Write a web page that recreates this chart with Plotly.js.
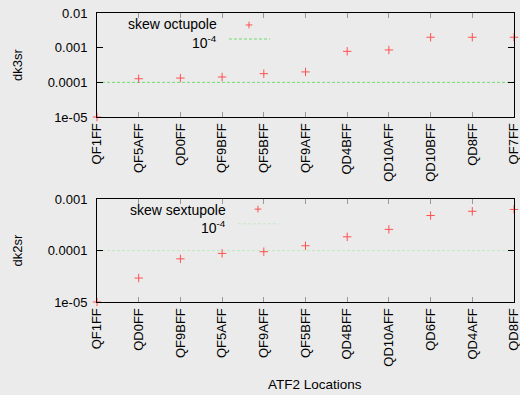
<!DOCTYPE html>
<html>
<head>
<meta charset="utf-8">
<script src="https://cdn.plot.ly/plotly-3.0.1.min.js"></script>
<style>html,body{margin:0;padding:0;background:#ebebeb;}#chart{width:520px;height:395px;}</style>
</head>
<body>
<div id="chart"></div>
<script>
// ---- data ----
const octupoleLocations = ['QF1FF','QF5AFF','QD0FF','QF9BFF','QF5BFF','QF9AFF','QD4BFF','QD10AFF','QD10BFF','QD8FF','QF7FF'];
const dk3sr = [1e-5, 1.27e-4, 1.33e-4, 1.43e-4, 1.78e-4, 2.0e-4, 7.85e-4, 8.6e-4, 2.0e-3, 2.0e-3, 2.0e-3];
const sextupoleLocations = ['QF1FF','QD0FF','QF9BFF','QF5AFF','QF9AFF','QF5BFF','QD4BFF','QD10AFF','QD6FF','QD4AFF','QD8FF'];
const dk2sr = [1e-5, 2.92e-5, 6.9e-5, 8.8e-5, 9.5e-5, 1.24e-4, 1.85e-4, 2.58e-4, 4.8e-4, 5.8e-4, 6.3e-4];
const refLevel = 1e-4;
const topTickVals = [1e-5, 1e-4, 1e-3, 1e-2];
const topTickText = ['1e-05', '0.0001', '0.001', '0.01'];
const botTickVals = [1e-5, 1e-4, 1e-3];
const botTickText = ['1e-05', '0.0001', '0.001'];

const FONT = 'Liberation Sans, Arial, sans-serif';
const RED = 'rgb(255,80,80)';
const GREEN_TOP = 'rgb(110,220,110)';
const GREEN_BOT = 'rgb(195,235,195)';

function minorVals(lo, hi) {
  const v = [];
  for (let e = lo; e < hi; e++) for (let m = 2; m <= 9; m++) v.push(m * Math.pow(10, e));
  return v;
}

const markerStyle = {symbol: 'cross-thin', size: 6, line: {color: RED, width: 1}, color: RED};

const traces = [
  {x: [octupoleLocations[0], octupoleLocations[octupoleLocations.length-1]], y: [refLevel, refLevel],
   type: 'scatter', mode: 'lines', name: '10^-4', line: {color: GREEN_TOP, width: 1, dash: '3px,2px'},
   xaxis: 'x', yaxis: 'y', showlegend: false},
  {x: octupoleLocations, y: dk3sr, type: 'scatter', mode: 'markers', name: 'skew octupole',
   marker: markerStyle, xaxis: 'x', yaxis: 'y', cliponaxis: false, showlegend: false},
  {x: [sextupoleLocations[0], sextupoleLocations[sextupoleLocations.length-1]], y: [refLevel, refLevel],
   type: 'scatter', mode: 'lines', name: '10^-4', line: {color: GREEN_BOT, width: 1, dash: '3px,2px'},
   xaxis: 'x2', yaxis: 'y2', showlegend: false},
  {x: sextupoleLocations, y: dk2sr, type: 'scatter', mode: 'markers', name: 'skew sextupole',
   marker: markerStyle, xaxis: 'x2', yaxis: 'y2', cliponaxis: false, showlegend: false}
];

const xBase = {
  type: 'category', categoryorder: 'array', range: [0, 10], showline: true, linecolor: '#000', linewidth: 1, mirror: 'ticks',
  ticks: 'inside', ticklen: 5, tickcolor: '#999', tickangle: -90, showgrid: false, zeroline: false,
  tickfont: {family: FONT, size: 13, color: '#000'}
};
const yBase = {
  type: 'log', showline: true, linecolor: '#000', linewidth: 1, mirror: 'ticks',
  ticks: 'inside', ticklen: 6, tickcolor: '#000', showgrid: false, zeroline: false,
  tickfont: {family: FONT, size: 13, color: '#000'}, tickmode: 'array', ticklabelstandoff: 6
};
const yMinorBase = {
  type: 'log', showline: false, mirror: 'ticks', ticks: 'inside', ticklen: 3, tickcolor: '#000',
  showgrid: false, zeroline: false, showticklabels: false, tickmode: 'array'
};

const layout = {
  width: 520, height: 395,
  margin: {l: 97, r: 6, t: 13, b: 93},
  paper_bgcolor: '#ebebeb', plot_bgcolor: '#ebebeb',
  font: {family: FONT, size: 13, color: '#000'},
  showlegend: false,
  xaxis: Object.assign({}, xBase, {anchor: 'y', domain: [0, 1], categoryarray: octupoleLocations}),
  yaxis: Object.assign({}, yBase, {anchor: 'x', domain: [0.640, 1], range: [-5, -2],
    tickvals: topTickVals, ticktext: topTickText,
    title: {text: 'dk3sr', font: {family: FONT, size: 13}, standoff: 22}}),
  yaxis3: Object.assign({}, yMinorBase, {anchor: 'x', overlaying: 'y', range: [-5, -2], tickvals: minorVals(-5, -2)}),
  xaxis2: Object.assign({}, xBase, {anchor: 'y2', domain: [0, 1], categoryarray: sextupoleLocations}),
  yaxis2: Object.assign({}, yBase, {anchor: 'x2', domain: [0, 0.356], range: [-5, -3],
    tickvals: botTickVals, ticktext: botTickText,
    title: {text: 'dk2sr', font: {family: FONT, size: 13}, standoff: 22}}),
  yaxis4: Object.assign({}, yMinorBase, {anchor: 'x2', overlaying: 'y2', range: [-5, -3], tickvals: minorVals(-5, -3)}),
  annotations: [
    {text: 'ATF2 Locations', xref: 'paper', yref: 'paper', x: 0.523, y: -0.314, xanchor: 'center', yanchor: 'bottom', borderpad: 0, showarrow: false, font: {family: FONT, size: 13.5}},
    {text: 'skew octupole', xref: 'x domain', yref: 'y domain', x: 0.293, y: 0.89, xanchor: 'right', yanchor: 'middle', showarrow: false, font: {family: FONT, size: 14}},
    {text: '10<sup>-4</sup>', xref: 'x domain', yref: 'y domain', x: 0.293, y: 0.72, xanchor: 'right', yanchor: 'middle', showarrow: false, font: {family: FONT, size: 14}},
    {text: 'skew sextupole', xref: 'x2 domain', yref: 'y2 domain', x: 0.315, y: 0.89, xanchor: 'right', yanchor: 'middle', showarrow: false, font: {family: FONT, size: 14}},
    {text: '10<sup>-4</sup>', xref: 'x2 domain', yref: 'y2 domain', x: 0.315, y: 0.725, xanchor: 'right', yanchor: 'middle', showarrow: false, font: {family: FONT, size: 14}}
  ],
  shapes: [
    // legend keys
    {type: 'line', xref: 'x domain', yref: 'y domain', x0: 0.3645-0.008, x1: 0.3645+0.008, y0: 0.885, y1: 0.885, line: {color: RED, width: 1}},
    {type: 'line', xref: 'x domain', yref: 'y domain', x0: 0.3645, x1: 0.3645, y0: 0.885-0.032, y1: 0.885+0.032, line: {color: RED, width: 1}},
    {type: 'line', xref: 'x domain', yref: 'y domain', x0: 0.3165, x1: 0.415, y0: 0.75, y1: 0.75, line: {color: GREEN_TOP, width: 1, dash: '3px,2px'}},
    {type: 'line', xref: 'x2 domain', yref: 'y2 domain', x0: 0.386-0.008, x1: 0.386+0.008, y0: 0.903, y1: 0.903, line: {color: RED, width: 1}},
    {type: 'line', xref: 'x2 domain', yref: 'y2 domain', x0: 0.386, x1: 0.386, y0: 0.903-0.032, y1: 0.903+0.032, line: {color: RED, width: 1}},
    {type: 'line', xref: 'x2 domain', yref: 'y2 domain', x0: 0.338, x1: 0.436, y0: 0.76, y1: 0.76, line: {color: GREEN_BOT, width: 1, dash: '3px,2px'}}
  ]
};

Plotly.newPlot('chart', traces, layout, {staticPlot: true, displayModeBar: false});
</script>
</body>
</html>
